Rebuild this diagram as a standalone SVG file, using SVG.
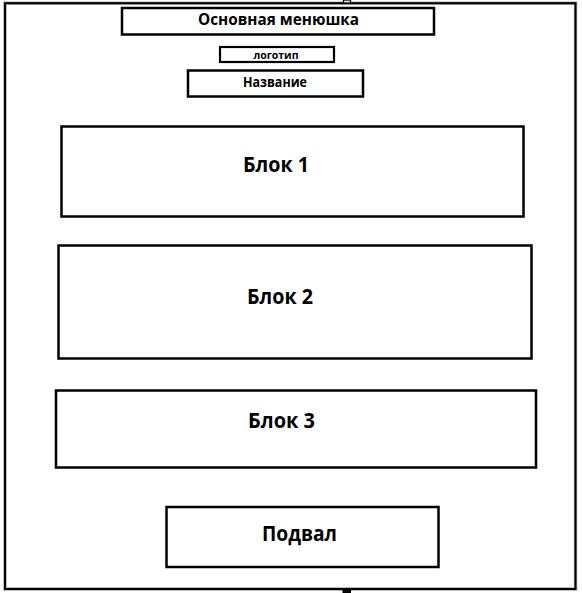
<svg xmlns="http://www.w3.org/2000/svg" width="582" height="593" viewBox="0 0 582 593">
<style>
.box{fill:#fff;stroke:#000;stroke-width:2.5}
.lbl{font-family:"Open Sans","Noto Sans","Liberation Sans",sans-serif;font-weight:bold;fill:#000}
</style>
<rect x="0" y="0" width="582" height="593" fill="#fff"/>
<g id="frame">
<rect x="5" y="3.2" width="570.5" height="585.8" fill="#fff" stroke="#aaa" stroke-width="3.5"/>
<rect x="5" y="3.2" width="570.5" height="585.8" fill="none" stroke="#000" stroke-width="2"/>
<rect x="343.5" y="0" width="7" height="3" fill="#ddd" stroke="#000" stroke-width="1.2"/>
<rect x="342.5" y="589.5" width="8.5" height="3.5" fill="#000"/>
</g>
<g id="connectors"></g>
<g id="menu">
<rect class="box" x="122" y="8" width="312" height="26.5"/>
<text class="lbl" x="198" y="25" font-size="16" textLength="161" lengthAdjust="spacingAndGlyphs">Основная менюшка</text>
</g>
<g id="logo">
<rect class="box" x="220" y="47" width="114" height="15" style="stroke-width:2.2"/>
<text class="lbl" x="253.5" y="59" font-size="11" textLength="45" lengthAdjust="spacingAndGlyphs">логотип</text>
</g>
<g id="title">
<rect class="box" x="188" y="70.5" width="175" height="26"/>
<text class="lbl" x="243" y="87" font-size="15" textLength="64" lengthAdjust="spacingAndGlyphs">Название</text>
</g>
<g id="block1">
<rect class="box" x="61.5" y="126.5" width="462" height="90"/>
<text class="lbl" x="243" y="172" font-size="21" textLength="66" lengthAdjust="spacingAndGlyphs">Блок 1</text>
</g>
<g id="block2">
<rect class="box" x="58.5" y="245.5" width="473" height="113"/>
<text class="lbl" x="247" y="304" font-size="22" textLength="66" lengthAdjust="spacingAndGlyphs">Блок 2</text>
</g>
<g id="block3">
<rect class="box" x="56" y="390.5" width="480" height="77"/>
<text class="lbl" x="248" y="428" font-size="22" textLength="67" lengthAdjust="spacingAndGlyphs">Блок 3</text>
</g>
<g id="footer">
<rect class="box" x="166.5" y="507" width="272" height="60"/>
<text class="lbl" x="262" y="541" font-size="22" textLength="75" lengthAdjust="spacingAndGlyphs">Подвал</text>
</g>
</svg>
